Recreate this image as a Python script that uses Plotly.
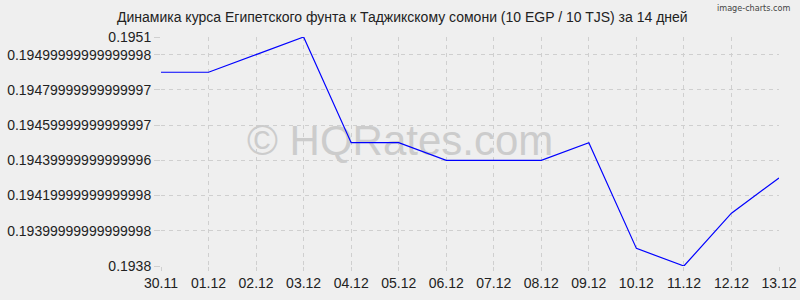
import plotly.graph_objects as go

dates = ["30.11", "01.12", "02.12", "03.12", "04.12", "05.12", "06.12",
         "07.12", "08.12", "09.12", "10.12", "11.12", "12.12", "13.12"]
rates = [0.1949, 0.1949, 0.1950, 0.1951, 0.1945, 0.1945, 0.1944,
         0.1944, 0.1944, 0.1945, 0.1939, 0.1938, 0.1941, 0.1943]

y_tickvals = [0.1938, 0.1940, 0.1942, 0.1944, 0.1946, 0.1948, 0.1950, 0.1951]
y_ticktext = ["0.1938", "0.19399999999999998", "0.19419999999999998",
              "0.19439999999999996", "0.19459999999999997", "0.19479999999999997",
              "0.19499999999999998", "0.1951"]

title_text = "Динамика курса Египетского фунта к Таджикскому сомони (10 EGP / 10 TJS) за 14 дней"
watermark = "© HQRates.com"

y_min, y_max = 0.1938, 0.1951
x_max = len(dates) - 1

fig = go.Figure()
# watermark drawn as a text trace so the data line is painted above it
fig.add_trace(go.Scatter(
    x=[x_max * 0.387], y=[y_min + (y_max - y_min) * 0.53], mode="text",
    text=[watermark], textposition="middle center",
    textfont=dict(size=42, color="#cccccc", family="Liberation Sans, Arial, sans-serif"),
    hoverinfo="skip", cliponaxis=False))
fig.add_trace(go.Scatter(
    x=list(range(len(dates))), y=rates, mode="lines",
    line=dict(color="#0000ff", width=1.2), hoverinfo="skip"))

grid = dict(showgrid=True, gridcolor="#cfcfcf", gridwidth=1, griddash="4px,4px",
            zeroline=False, showline=False, automargin=False)

fig.update_layout(
    width=800, height=300,
    margin=dict(l=161, r=21, t=37, b=34),
    paper_bgcolor="#efefef", plot_bgcolor="#efefef",
    showlegend=False,
    font=dict(family="Liberation Sans, Arial, sans-serif", size=14, color="#222222"),
    xaxis=dict(**grid, tickmode="array", tickvals=list(range(len(dates))), ticktext=dates,
               range=[0, x_max], ticks="outside", ticklen=4, tickcolor="#cfcfcf",
               tickfont=dict(size=14, color="#222222")),
    yaxis=dict(**grid, tickmode="array", tickvals=y_tickvals, ticktext=y_ticktext,
               range=[y_min, y_max], ticks="outside", ticklen=6, tickcolor="#cfcfcf",
               tickfont=dict(size=14, color="#222222")),
    annotations=[
        dict(text=title_text, xref="paper", yref="paper", x=0.5, y=1, xanchor="center",
             yanchor="bottom", yshift=10, showarrow=False,
             font=dict(size=14, color="#222222"), xshift=-68),
        dict(text="image-charts.com", xref="paper", yref="paper", x=1, y=1,
             xanchor="right", yanchor="bottom", xshift=13, yshift=22, showarrow=False,
             font=dict(size=9, color="#444444", family="DejaVu Sans Condensed, DejaVu Sans")),
    ],
)

fig.write_html("out.html")
